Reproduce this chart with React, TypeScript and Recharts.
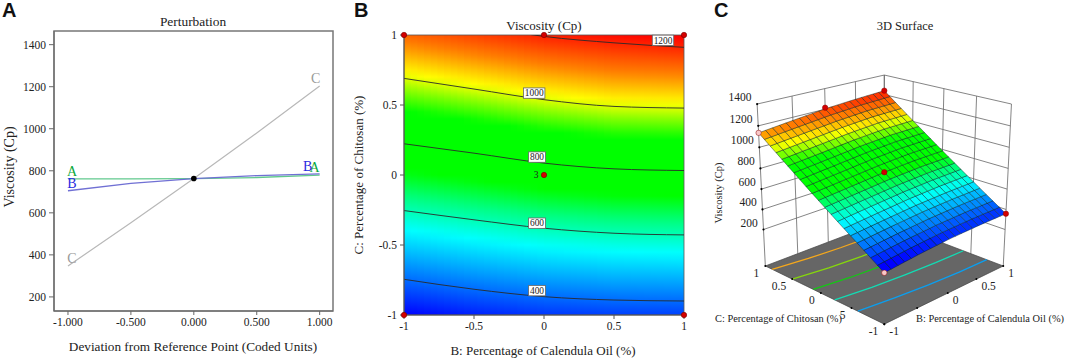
import React from 'react';
import {
  ComposedChart, LineChart, ScatterChart, Line, Scatter, XAxis, YAxis,
  ReferenceArea, ReferenceDot,
} from 'recharts';

const SERIF = "'Liberation Serif', serif";

// panel A, perturbation traces
const deviation = [-1, -0.5, 0, 0.5, 1];
const traceA = [762, 762, 763, 768, 779];
const traceB = [705, 740, 763, 777, 785];
const traceC = [347, 553, 763, 980, 1203];
const viscosityTicks = [200, 400, 600, 800, 1000, 1200, 1400];
const deviationTicks = [-1, -0.5, 0, 0.5, 1];

// surface, one list per B column, going up C
const surfaceB = [-1, -0.5, 0, 0.5, 1];
const surfaceC = [-1, -0.75, -0.5, -0.25, 0, 0.25, 0.5, 0.75, 1];
const viscosityAtBm1 = [295, 398, 500, 602, 706, 811, 919, 1026, 1135];
const viscosityAtBm05 = [325, 427, 527, 629, 734, 841, 950, 1060, 1170];
const viscosityAtB0 = [347, 449, 551, 655, 763, 872, 983, 1093, 1204];
const viscosityAtB05 = [356, 460, 564, 671, 781, 893, 1005, 1117, 1225];
const viscosityAtB1 = [358, 463, 569, 677, 786, 897, 1010, 1124, 1240];
const surfaceColumns = [viscosityAtBm1, viscosityAtBm05, viscosityAtB0, viscosityAtB05, viscosityAtB1];

// contour lines of panel B, C position at each surfaceB
const contour400 = [-0.745, -0.816, -0.869, -0.893, -0.9];
const contour600 = [-0.254, -0.32, -0.38, -0.416, -0.428];
const contour800 = [0.223, 0.156, 0.085, 0.044, 0.032];
const contour1000 = [0.69, 0.614, 0.538, 0.49, 0.478];
const contour1200 = [1.15, 1.07, 0.99, 0.944, 0.912];
const contourLabelText = ['400', '600', '800', '1000', '1200'];
const contourLabelB = [-0.05, -0.05, -0.05, -0.07, 0.85];
const contourLabelC = [-0.826, -0.344, 0.128, 0.585, 0.962];

// design points
const pointB = [-1, 0, 1, 0, -1, 1];
const pointC = [1, 1, 1, 0, -1, -1];

// contours projected on the floor of panel C
const floorBlue = [-0.6, -0.66, -0.71, -0.74, -0.75];
const floorTeal = [-0.23, -0.3, -0.34, -0.37, -0.38];
const floorGreen = [0.13, 0.06, 0.02, 0, 0];
const floorLime = [0.5, 0.43, 0.39, 0.37, 0.37];
const floorOrange = [0.87, 0.8, 0.76, 0.74, 0.74];
const floorLines = [
  { c: floorBlue, stroke: '#0a9ff0' },
  { c: floorTeal, stroke: '#12dcb4' },
  { c: floorGreen, stroke: '#14c814' },
  { c: floorLime, stroke: '#86d80c' },
  { c: floorOrange, stroke: '#f5a81c' },
];

// colour ramp
const rampValues = [295, 420, 545, 640, 720, 900, 960, 1015, 1110, 1235];
const rampColors = [
  [0, 0, 255], [0, 128, 255], [0, 255, 255], [0, 255, 128], [0, 255, 0],
  [0, 255, 0], [128, 255, 0], [255, 255, 0], [255, 128, 0], [255, 0, 0],
];

const rampColor = (v: number) => {
  if (v <= rampValues[0]) return `rgb(${rampColors[0].join(',')})`;
  for (let i = 1; i < rampValues.length; i++) {
    if (v <= rampValues[i]) {
      const t = (v - rampValues[i - 1]) / (rampValues[i] - rampValues[i - 1]);
      const rgb = rampColors[i].map((ch, k) => Math.round(rampColors[i - 1][k] + (ch - rampColors[i - 1][k]) * t));
      return `rgb(${rgb.join(',')})`;
    }
  }
  return `rgb(${rampColors[rampColors.length - 1].join(',')})`;
};

// paint only: the strips and mesh facets are finer than the table
const surfaceAt = (b: number, c: number) => {
  const bi = Math.min(Math.floor((b + 1) / 0.5), surfaceB.length - 2);
  const ci = Math.min(Math.floor((c + 1) / 0.25), surfaceC.length - 2);
  const tb = (b - surfaceB[bi]) / 0.5;
  const tc = (c - surfaceC[ci]) / 0.25;
  const lo = surfaceColumns[bi][ci] * (1 - tb) + surfaceColumns[bi + 1][ci] * tb;
  const hi = surfaceColumns[bi][ci + 1] * (1 - tb) + surfaceColumns[bi + 1][ci + 1] * tb;
  return lo * (1 - tc) + hi * tc;
};

const Txt = ({ x, y, size = 11, anchor = 'middle', rot, fill = '#222', children }: any) => (
  <text
    x={x}
    y={y}
    fontSize={size}
    fontFamily={SERIF}
    textAnchor={anchor}
    fill={fill}
    transform={rot ? `rotate(${rot} ${x} ${y})` : undefined}
  >
    {children}
  </text>
);

const tickStyle = { fontFamily: SERIF, fontSize: 11.5, fill: '#222' };

const endLabel = (letter: string, color: string, dxL: number, dxR: number, dyL: number, dyR: number) => (p: any) => {
  if (p.index !== 0 && p.index !== deviation.length - 1) return <g key={p.index} />;
  const first = p.index === 0;
  return (
    <text
      key={p.index}
      x={p.x + (first ? dxL : dxR)}
      y={p.y + (first ? dyL : dyR)}
      fill={color}
      fontSize={14}
      fontFamily={SERIF}
      textAnchor="middle"
    >
      {letter}
    </text>
  );
};

function PanelA() {
  const rows = deviation.map((d, i) => ({ d, a: traceA[i], b: traceB[i], c: traceC[i] }));
  return (
    <LineChart width={340} height={359} data={rows} margin={{ top: 31, right: 7, bottom: 0, left: 0 }}>
      <XAxis
        dataKey="d"
        type="number"
        domain={[-1.111, 1.106]}
        ticks={deviationTicks}
        tickFormatter={(v: number) => v.toFixed(3)}
        tick={tickStyle}
        tickSize={4}
        tickMargin={3}
        interval={0}
        height={48}
        stroke="#666"
      />
      <YAxis
        type="number"
        domain={[133, 1465]}
        ticks={viscosityTicks}
        tick={tickStyle}
        tickSize={5}
        tickMargin={3}
        interval={0}
        width={54}
        stroke="#666"
      />
      <ReferenceArea x1={-1.111} x2={1.106} y1={133} y2={1465} fill="none" stroke="#777" strokeWidth={1.5} />
      <Line dataKey="c" stroke="#b8b8b8" strokeWidth={1.2} dot={false} isAnimationActive={false} label={endLabel('C', '#999', 4, -4, -3, -3)} />
      <Line dataKey="a" stroke="#62c98e" strokeWidth={1.3} dot={false} isAnimationActive={false} label={endLabel('A', '#0aa83c', 4, -5, -3, -3)} />
      <Line dataKey="b" stroke="#7070d4" strokeWidth={1.3} dot={false} isAnimationActive={false} label={endLabel('B', '#2a2ae0', 4, -12, -3, -3)} />
      <ReferenceDot x={0} y={763} r={2.8} fill="#000" stroke="none" />
      <Txt x={193} y={26} size={13.4}>Perturbation</Txt>
      <Txt x={193} y={351} size={13.25}>Deviation from Reference Point (Coded Units)</Txt>
      <Txt x={14} y={167} size={14} rot={-90}>Viscosity (Cp)</Txt>
    </LineChart>
  );
}

const STRIPS = 42;
const stripEdges = Array.from({ length: STRIPS }, (_, i) => -1 + (2 * i) / STRIPS);
const stripStops = Array.from({ length: 41 }, (_, i) => i / 40);

const ContourTag = ({ cx, cy, text }: any) => {
  const w = text.length * 4.6 + 3;
  return (
    <g>
      <rect x={cx - w / 2} y={cy - 5.2} width={w} height={10.4} fill="#fff" stroke="#666" strokeWidth={0.8} />
      <text x={cx} y={cy + 3.3} fontSize={9.4} fontFamily={SERIF} textAnchor="middle" fill="#222">{text}</text>
    </g>
  );
};

function PanelB() {
  const rows = surfaceB.map((b, i) => ({
    b,
    c400: contour400[i],
    c600: contour600[i],
    c800: contour800[i],
    c1000: contour1000[i],
    c1200: contour1200[i],
  }));
  const contourKeys = ['c400', 'c600', 'c800', 'c1000', 'c1200'];
  return (
    <ComposedChart width={360} height={359} data={rows} margin={{ top: 35, right: 16, bottom: 0, left: 0 }}>
      <defs>
        {stripEdges.map((b0, i) => (
          <linearGradient key={i} id={`strip${i}`} x1="0" y1="0" x2="0" y2="1">
            {stripStops.map((t) => (
              <stop key={t} offset={t} stopColor={rampColor(surfaceAt(b0 + 1 / STRIPS, 1 - 2 * t))} />
            ))}
          </linearGradient>
        ))}
      </defs>
      <XAxis
        dataKey="b"
        type="number"
        domain={[-1, 1]}
        ticks={[-1, -0.5, 0, 0.5, 1]}
        allowDataOverflow
        tick={tickStyle}
        tickSize={4}
        tickMargin={3}
        interval={0}
        height={44}
        stroke="#555"
      />
      <YAxis
        type="number"
        domain={[-1, 1]}
        ticks={[-1, -0.5, 0, 0.5, 1]}
        allowDataOverflow
        tick={tickStyle}
        tickSize={4}
        tickMargin={3}
        interval={0}
        width={64}
        stroke="#555"
      />
      {stripEdges.map((b0, i) => (
        <ReferenceArea
          key={i}
          x1={b0}
          x2={Math.min(1, b0 + (2 * 1.15) / STRIPS)}
          y1={-1}
          y2={1}
          fill={`url(#strip${i})`}
          fillOpacity={1}
          stroke="none"
        />
      ))}
      {contourKeys.map((k) => (
        <Line key={k} dataKey={k} type="monotone" stroke="#2a2a2a" strokeWidth={0.9} dot={false} isAnimationActive={false} />
      ))}
      <ReferenceArea x1={-1} x2={1} y1={-1} y2={1} fill="none" stroke="#555" strokeWidth={0.8} />
      {contourLabelText.map((t, i) => (
        <ReferenceDot key={t} x={contourLabelB[i]} y={contourLabelC[i]} shape={(p: any) => <ContourTag {...p} text={t} />} />
      ))}
      {pointB.map((b, i) => (
        <ReferenceDot key={i} x={b} y={pointC[i]} r={2.7} fill="#d40000" stroke="#700" strokeWidth={0.6} />
      ))}
      <ReferenceDot
        x={0}
        y={0}
        shape={(p: any) => (
          <text x={p.cx - 8} y={p.cy + 3.2} fontSize={9.5} fontFamily={SERIF} textAnchor="middle" fill="#222">3</text>
        )}
      />
      <Txt x={204} y={30} size={13}>Viscosity (Cp)</Txt>
      <Txt x={203} y={355} size={13}>B: Percentage of Calendula Oil (%)</Txt>
      <Txt x={23} y={175} size={13} rot={-90}>C: Percentage of Chitosan (%)</Txt>
    </ComposedChart>
  );
}

// camera of panel C
const CAM = { x0: 184.3, y0: 187.7, f: 895.3, d: 10.3, h: 0.992, se: 0.346, ce: 0.938 };
const V_PER_Z = 786.4;
const FLOOR_V = 1400 - 2 * V_PER_Z;

const project = (b: number, c: number, v: number) => {
  const z = 1 - (1400 - v) / V_PER_Z;
  const u = (b - c) / Math.SQRT2;
  const w = -(b + c) / Math.SQRT2;
  const up = z * CAM.h * CAM.ce - w * CAM.se;
  const near = w * CAM.ce + z * CAM.h * CAM.se;
  const s = CAM.f / (CAM.d - near);
  return { sx: CAM.x0 + s * u, sy: CAM.y0 - s * up };
};

const MESH = 20;
const meshStep = 2 / MESH;

const meshFacets: any[] = [];
for (let i = 0; i < MESH; i++) {
  for (let j = 0; j < MESH; j++) {
    const b0 = -1 + i * meshStep;
    const c0 = -1 + j * meshStep;
    const corners = [
      [b0, c0], [b0 + meshStep, c0], [b0 + meshStep, c0 + meshStep], [b0, c0 + meshStep],
    ].map(([b, c]) => project(b, c, surfaceAt(Math.min(b, 1), Math.min(c, 1))));
    const mid = surfaceAt(b0 + meshStep / 2, c0 + meshStep / 2);
    const centre = project(b0 + meshStep / 2, c0 + meshStep / 2, mid);
    // the 3D view reads a little cooler than the contour plot
    meshFacets.push({ ...centre, corners, fill: rampColor(mid - 30) });
  }
}

const Facet = ({ cx, cy, payload }: any) => {
  const dx = cx - payload.sx;
  const dy = cy - payload.sy;
  const pts = payload.corners.map((p: any) => `${p.sx + dx},${p.sy + dy}`).join(' ');
  return <polygon points={pts} fill={payload.fill} stroke={payload.stroke ?? 'rgba(0,30,30,0.62)'} strokeWidth={0.7} />;
};

const noDot = () => <g />;

const wallValues = [200, 400, 600, 800, 1000, 1200, 1400];
const wallSteps = [-1, -0.5, 0, 0.5, 1];
const floorTickText = ['1', '0.5', '0', '5', '-1'];
const floorTickC = [1, 0.5, 0, -0.5, -1];
const frontTickText = ['-1', '0', '0.5', '1'];
const frontTickB = [-1, 0, 0.5, 1];
const pointV = [1135, 1215, 1240, 763, 295, 358];
const pointFill = ['#f8c8c8', '#d40000', '#d40000', '#d40000', '#f8c8c8', '#d40000'];

function PanelC() {
  const floorCorners = [[-1, -1], [1, -1], [1, 1], [-1, 1]].map(([b, c]) => project(b, c, FLOOR_V));
  const floorFace = [{ ...project(0, 0, FLOOR_V), corners: floorCorners, fill: '#666', stroke: '#444' }];
  const levelLines = wallValues.map((v) => [project(-1, 1, v), project(1, 1, v), project(1, -1, v)]);
  const leftVerticals = wallSteps.map((b) => [project(b, 1, FLOOR_V), project(b, 1, 1400)]);
  const rightVerticals = wallSteps.map((c) => [project(1, c, FLOOR_V), project(1, c, 1400)]);
  const wallPoints = wallValues.map((v) => project(-1, 1, v));
  const floorTicks = [
    ...floorTickC.map((c) => project(-1, c, FLOOR_V)),
    ...wallSteps.map((b) => project(b, -1, FLOOR_V)),
  ];
  return (
    <ScatterChart width={365} height={359} margin={{ top: 0, right: 0, bottom: 0, left: 0 }}>
      <XAxis dataKey="sx" type="number" domain={[0, 365]} hide />
      <YAxis dataKey="sy" type="number" domain={[0, 359]} reversed hide />
      {[...leftVerticals, ...rightVerticals, ...levelLines].map((pts, i) => (
        <Scatter key={`w${i}`} data={pts} line={{ stroke: '#666', strokeWidth: 0.8 }} shape={noDot} isAnimationActive={false} />
      ))}
      <Scatter data={floorFace} shape={Facet} isAnimationActive={false} />
      {floorLines.map((fl, i) => (
        <Scatter
          key={`f${i}`}
          data={surfaceB.map((b, k) => project(b, fl.c[k], FLOOR_V))}
          line={{ stroke: fl.stroke, strokeWidth: 1.3 }}
          shape={noDot}
          isAnimationActive={false}
        />
      ))}
      <Scatter data={wallPoints} shape={(p: any) => <circle cx={p.cx} cy={p.cy} r={1.1} fill="#000" />} isAnimationActive={false} />
      <Scatter data={floorTicks} shape={(p: any) => <circle cx={p.cx} cy={p.cy} r={1} fill="#000" />} isAnimationActive={false} />
      <Scatter data={meshFacets} shape={Facet} isAnimationActive={false} />
      <Scatter
        data={pointB.map((b, i) => ({ ...project(b, pointC[i], pointV[i]), fill: pointFill[i] }))}
        shape={(p: any) => <circle cx={p.cx} cy={p.cy} r={2.7} fill={p.payload.fill} stroke="#800" strokeWidth={0.5} />}
        isAnimationActive={false}
      />
      {wallValues.map((v) => {
        const p = project(-1, 1, v);
        return <Txt key={v} x={p.sx - 5.7} y={p.sy - 3} anchor="end" size={11.5}>{v}</Txt>;
      })}
      {floorTickC.map((c, i) => {
        const p = project(-1, c, FLOOR_V);
        return <Txt key={c} x={p.sx - 6} y={p.sy + 11} anchor="end" size={11.5}>{floorTickText[i]}</Txt>;
      })}
      {frontTickB.map((b, i) => {
        const p = project(b, -1, FLOOR_V);
        return <Txt key={b} x={p.sx + 5} y={p.sy + 11} anchor="start" size={11.5}>{frontTickText[i]}</Txt>;
      })}
      <Txt x={205} y={30} size={12.5}>3D Surface</Txt>
      <Txt x={22} y={193} size={10.5} rot={-90}>Viscosity (Cp)</Txt>
      <Txt x={15} y={322} anchor="start" size={10.4}>C: Percentage of Chitosan (%)</Txt>
      <Txt x={216} y={322} anchor="start" size={10.4}>B: Percentage of Calendula Oil (%)</Txt>
    </ScatterChart>
  );
}

const Letter = ({ x, children }: any) => (
  <div style={{ position: 'absolute', left: x, top: -3, fontFamily: "'Liberation Sans', sans-serif", fontWeight: 700, fontSize: 20, lineHeight: '26px', color: '#111' }}>
    {children}
  </div>
);

export default function App() {
  return (
    <div style={{ position: 'absolute', left: 0, top: 0, width: 1065, height: 359, background: '#fff', overflow: 'hidden' }}>
      <div style={{ position: 'absolute', left: 0, top: 0 }}><PanelA /></div>
      <div style={{ position: 'absolute', left: 340, top: 0 }}><PanelB /></div>
      <div style={{ position: 'absolute', left: 700, top: 0 }}><PanelC /></div>
      <Letter x={2}>A</Letter>
      <Letter x={354}>B</Letter>
      <Letter x={714}>C</Letter>
    </div>
  );
}
